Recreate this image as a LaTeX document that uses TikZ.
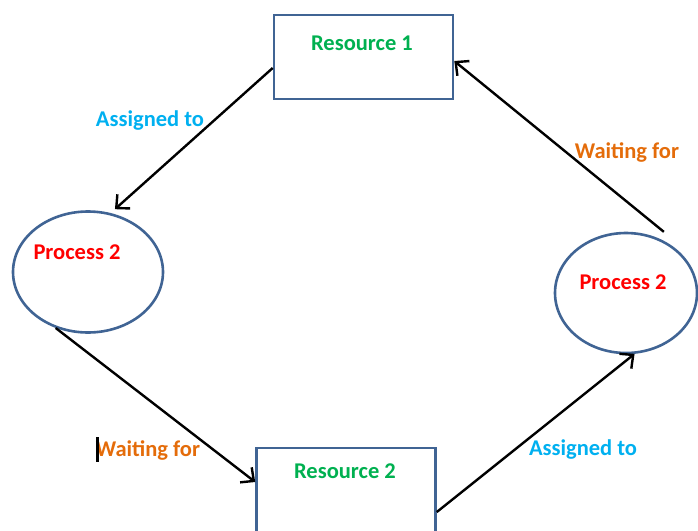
\documentclass[tikz,border=0pt]{standalone}
\usepackage{fontspec}
\setmainfont{Carlito}
\usetikzlibrary{arrows.meta,shapes.geometric}
\definecolor{boxblue}{RGB}{64,100,148}
\definecolor{resgreen}{RGB}{0,176,80}
\definecolor{asblue}{RGB}{0,176,240}
\definecolor{waitorange}{RGB}{228,108,10}
\tikzset{
  resbox/.style={draw=boxblue,line width=2.6pt,minimum width=179pt,minimum height=84pt,inner sep=0pt},
  proc/.style={draw=boxblue,line width=2.6pt,ellipse,inner sep=0pt},
  lbl/.style={font=\fontsize{22.5}{26}\selectfont\bfseries,inner sep=0pt},
  conn/.style={line width=2.4pt,-{Straight Barb[length=10pt,width=19pt,line width=2.4pt]}},
}
\begin{document}
\begin{tikzpicture}[x=1pt,y=-1pt]
\useasboundingbox (0,0) rectangle (698,530);
\node[resbox] (r1) at (363.5,57) {};
\node[resbox] (r2) at (346,490) {};
\node[proc,minimum width=150pt,minimum height=121pt] (p1) at (88,272) {};
\node[proc,minimum width=142pt,minimum height=120pt] (p2) at (626,293) {};
\node[lbl,text=resgreen] (t1) at (362,43) {Resource 1};
\node[lbl,text=resgreen] (t2) at (345,471) {Resource 2};
\node[lbl,text=red] (t3) at (77,252) {Process 2};
\node[lbl,text=red] (t4) at (623,282) {Process 2};
\node[lbl,text=asblue] (l1) at (150,121) {Assigned to};
\node[lbl,text=waitorange] (l2) at (627,152) {Waiting for};
\node[lbl,text=waitorange] (l3) at (148,450) {Waiting for};
\node[lbl,text=asblue] (l4) at (583,450) {Assigned to};
\coordinate (cur1) at (97.5,437);
\coordinate (cur2) at (97.5,462);
\draw[line width=2.2pt] (cur1) -- (cur2);
\draw[conn] ([yshift=-11pt]r1.west) -- ([yshift=5pt]p1.65);
\draw[conn] (p1.240) -- ([yshift=8pt]r2.west);
\draw[conn] ([yshift=-22pt]r2.east) -- (p2.278.7);
\draw[conn] ([shift={(4pt,7pt)}]p2.58) -- ([yshift=-4pt]r1.east);
\end{tikzpicture}
\end{document}
